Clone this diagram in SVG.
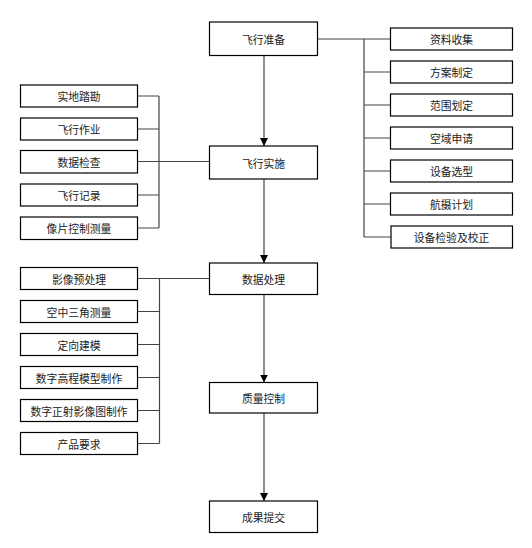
<svg xmlns="http://www.w3.org/2000/svg" width="532" height="548" viewBox="0 0 532 548">
<style>
rect{fill:#fff;stroke:#000;stroke-width:1.2}
text{font-family:"Noto Sans CJK SC","Liberation Sans",sans-serif;font-size:10.8px;fill:#222;text-anchor:middle;dominant-baseline:central}
.c{fill:none;stroke:#444;stroke-width:1.2}
</style>
<defs>
<marker id="ah" markerWidth="8" markerHeight="8" refX="8" refY="4" orient="auto" markerUnits="userSpaceOnUse">
<path d="M0,0 L8,4 L0,8 Z" fill="#000"/>
</marker>
</defs>
<rect x="0" y="0" width="532" height="548" style="fill:#fff;stroke:none"/>
<g id="connectors">
<path class="c" d="M264,55.5 V146" marker-end="url(#ah)"/>
<path class="c" d="M264,179 V263" marker-end="url(#ah)"/>
<path class="c" d="M264,294.5 V382.5" marker-end="url(#ah)"/>
<path class="c" d="M264,413 V501" marker-end="url(#ah)"/>
<path class="c" d="M317.5,39 H390.5 M364,39 V237 M364,72 H390.5 M364,105 H390.5 M364,138 H390.5 M364,171 H390.5 M364,204 H390.5 M364,237 H391"/>
<path class="c" d="M137.5,96 H159 M137.5,129 H159 M137.5,161.5 H209.5 M137.5,195 H159 M137.5,228 H159 M159,96 V228"/>
<path class="c" d="M137.5,278.5 H209.5 M137.5,311.5 H159.5 M137.5,344.5 H159.5 M137.5,377.5 H159.5 M137.5,410.5 H159.5 M137.5,443.5 H159.5 M159.5,278.5 V443.5"/>
</g>
<g id="n1"><rect x="209.5" y="22" width="108" height="33.5"/><text x="263.5" y="39">飞行准备</text></g>
<g id="n2"><rect x="209.5" y="146" width="108" height="33"/><text x="263.5" y="162.5">飞行实施</text></g>
<g id="n3"><rect x="209.5" y="263" width="108" height="31.5"/><text x="263.5" y="278.8">数据处理</text></g>
<g id="n4"><rect x="209.5" y="382.5" width="108" height="30.5"/><text x="263.5" y="397.8">质量控制</text></g>
<g id="n5"><rect x="209.5" y="501" width="108" height="31.5"/><text x="263.5" y="516.8">成果提交</text></g>
<g id="r1"><rect x="390.5" y="28" width="122" height="22"/><text x="451.5" y="39">资料收集</text></g>
<g id="r2"><rect x="390.5" y="61" width="122" height="22"/><text x="451.5" y="72">方案制定</text></g>
<g id="r3"><rect x="390.5" y="94" width="122" height="22"/><text x="451.5" y="105">范围划定</text></g>
<g id="r4"><rect x="390.5" y="127" width="122" height="22"/><text x="451.5" y="138">空域申请</text></g>
<g id="r5"><rect x="390.5" y="160" width="122" height="22"/><text x="451.5" y="171">设备选型</text></g>
<g id="r6"><rect x="390.5" y="193" width="122" height="22"/><text x="451.5" y="204">航摄计划</text></g>
<g id="r7"><rect x="391" y="226" width="121.5" height="22"/><text x="451.5" y="237">设备检验及校正</text></g>
<g id="l1"><rect x="20.5" y="85" width="117" height="22"/><text x="79" y="96">实地踏勘</text></g>
<g id="l2"><rect x="20.5" y="118" width="117" height="22"/><text x="79" y="129">飞行作业</text></g>
<g id="l3"><rect x="20.5" y="150.5" width="117" height="22.5"/><text x="79" y="161.8">数据检查</text></g>
<g id="l4"><rect x="20.5" y="184" width="117" height="22"/><text x="79" y="195">飞行记录</text></g>
<g id="l5"><rect x="20.5" y="217" width="117" height="22.5"/><text x="79" y="228.2">像片控制测量</text></g>
<g id="m1"><rect x="20.5" y="267.5" width="117" height="22"/><text x="79" y="278.5">影像预处理</text></g>
<g id="m2"><rect x="20.5" y="300.5" width="117" height="22"/><text x="79" y="311.5">空中三角测量</text></g>
<g id="m3"><rect x="20.5" y="333.5" width="117" height="22"/><text x="79" y="344.5">定向建模</text></g>
<g id="m4"><rect x="20.5" y="366.5" width="117" height="22"/><text x="79" y="377.5">数字高程模型制作</text></g>
<g id="m5"><rect x="20.5" y="399.5" width="117" height="22"/><text x="79" y="410.5">数字正射影像图制作</text></g>
<g id="m6"><rect x="20.5" y="432.5" width="117" height="22"/><text x="79" y="443.5">产品要求</text></g>
</svg>
